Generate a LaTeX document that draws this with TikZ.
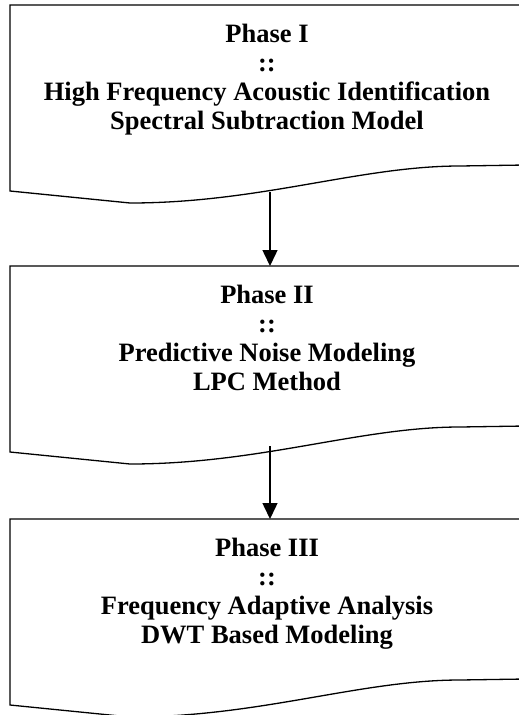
\documentclass[tikz,border=0pt]{standalone}
\usepackage{fontspec}
\setmainfont{Liberation Serif}
\usetikzlibrary{arrows.meta}

\tikzset{
  docline/.style={line width=1.3pt},
  phase/.style={align=center,inner sep=0pt,
    font=\bfseries\fontsize{26.5}{29}\selectfont},
  flow/.style={line width=1.5pt,-{Triangle[length=16pt,width=15pt]}}
}
% document shape, #1 = top edge
\newcommand{\docshape}[1]{%
  \draw[docline] (525,#1) -- (10,#1) -- (10,#1+186) -- (130,#1+198)
    .. controls (260,#1+198) and (360,#1+161) .. (460,#1+161) -- (525,#1+160);
}

\begin{document}
\begin{tikzpicture}[x=1pt,y=-1pt]
  \useasboundingbox (0,0) rectangle (519,715);
  \clip (0,0) rectangle (519,715);

  \docshape{5}
  \node[phase,anchor=north] (p1) at (267,24)
    {Phase I\\::\\High Frequency Acoustic Identification\\Spectral Subtraction Model};

  \docshape{266}
  \node[phase,anchor=north] (p2) at (267,285)
    {Phase II\\::\\Predictive Noise Modeling\\LPC Method};

  \docshape{519}
  \node[phase,anchor=north] (p3) at (267,538)
    {Phase III\\::\\Frequency Adaptive Analysis\\DWT Based Modeling};

  \coordinate (w1) at (270,192);
  \coordinate (t2) at (270,266);
  \coordinate (w2) at (270,446);
  \coordinate (t3) at (270,519);
  \draw[flow] (w1) -- (t2);
  \draw[flow] (w2) -- (t3);
\end{tikzpicture}
\end{document}
